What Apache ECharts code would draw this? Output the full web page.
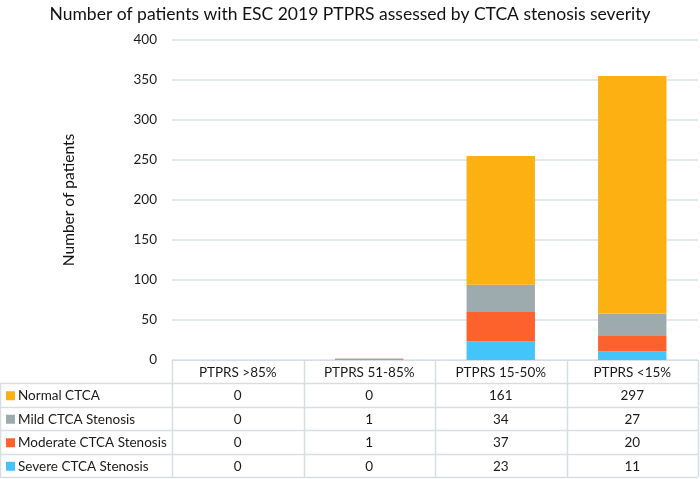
<!DOCTYPE html>
<html><head><meta charset="utf-8">
<script src="https://cdn.jsdelivr.net/npm/echarts@6/dist/echarts.min.js"></script>
<style>html,body{margin:0;padding:0;background:#fff}#c{width:700px;height:479px}</style>
</head><body><div id="c"></div>
<script>
const categories = ['PTPRS >85%', 'PTPRS 51-85%', 'PTPRS 15-50%', 'PTPRS <15%'];
const normalCTCA = [0, 0, 161, 297];
const mildStenosis = [0, 1, 34, 27];
const moderateStenosis = [0, 1, 37, 20];
const severeStenosis = [0, 0, 23, 11];
const seriesNames = ['Normal CTCA', 'Mild CTCA Stenosis', 'Moderate CTCA Stenosis', 'Severe CTCA Stenosis'];
const seriesColors = ['#FDB012', '#9DABAE', '#FD622D', '#44C5F9'];
const tableRows = [normalCTCA, mildStenosis, moderateStenosis, severeStenosis];

const FONT = 'Lato';
const gridLeft = 172, gridRight = 2, gridTop = 40, gridBottom = 119;
const W = 700, H = 479;
const chart = echarts.init(document.getElementById('c'), null, {renderer: 'canvas'});

const stackOrder = [3, 2, 1, 0];
const dataArr = [normalCTCA, mildStenosis, moderateStenosis, severeStenosis];
const series = stackOrder.map(i => ({
  name: seriesNames[i], type: 'bar', stack: 'total', data: dataArr[i],
  barWidth: '52%', itemStyle: {color: seriesColors[i]}
}));

chart.setOption({
  animation: false,
  textStyle: {fontFamily: FONT},
  title: {text: 'Number of patients with ESC 2019 PTPRS assessed by CTCA stenosis severity',
    left: 'center', top: 0, textStyle: {fontFamily: FONT, fontSize: 17.5, fontWeight: 'normal', color: '#111'}},
  grid: {left: gridLeft, right: gridRight, top: gridTop, bottom: gridBottom},
  xAxis: {type: 'category', data: categories, axisLine: {show: true, lineStyle: {color: '#D5DFE3'}},
    axisTick: {show: false}, axisLabel: {show: false}},
  yAxis: {type: 'value', min: 0, max: 400, interval: 50,
    name: 'Number of patients', nameLocation: 'middle', nameGap: 95,
    nameTextStyle: {fontFamily: FONT, fontSize: 15.5, color: '#111'},
    axisLine: {show: false}, axisTick: {show: false},
    axisLabel: {margin: 15, fontSize: 13.5, color: '#1a1a1a', fontFamily: FONT},
    splitLine: {lineStyle: {color: '#D9E2E5', width: 1.5}}},
  series: series
});

// table below the plot
const colCenters = categories.map((c, i) => chart.convertToPixel({xAxisIndex: 0}, i));
const colW = colCenters[1] - colCenters[0];
const tableTop = chart.convertToPixel({yAxisIndex: 0}, 0);
const headerH = 23, rowH = 23.5;
const lineC = '#D5DFE3';
const g = [];
const right = W - gridRight;
for (let i = 0; i <= categories.length; i++) {
  const x = Math.round(colCenters[0] - colW / 2 + i * colW) + 0.5;
  g.push({type: 'line', shape: {x1: x, y1: tableTop, x2: x, y2: tableTop + headerH + rowH * 4}, style: {stroke: lineC, lineWidth: 1.5}});
}
g.push({type: 'line', shape: {x1: 0.5, y1: tableTop + headerH, x2: 0.5, y2: tableTop + headerH + rowH * 4}, style: {stroke: lineC, lineWidth: 1.5}});
for (let r = 0; r <= 4; r++) {
  const y = Math.round(tableTop + headerH + r * rowH) + 0.5;
  g.push({type: 'line', shape: {x1: 0, y1: y, x2: right, y2: y}, style: {stroke: lineC, lineWidth: 1.5}});
}
categories.forEach((c, i) => {
  g.push({type: 'text', style: {text: c, x: colCenters[i], y: tableTop + headerH / 2 + 1, align: 'center', verticalAlign: 'middle', font: '13.5px ' + FONT, fill: '#1a1a1a'}});
});
tableRows.forEach((row, r) => {
  const yc = tableTop + headerH + r * rowH + rowH / 2 + 1;
  g.push({type: 'rect', shape: {x: 6, y: yc - 4.5, width: 9, height: 9}, style: {fill: seriesColors[r]}});
  g.push({type: 'text', style: {text: seriesNames[r], x: 18, y: yc, align: 'left', verticalAlign: 'middle', font: '13.5px ' + FONT, fill: '#1a1a1a'}});
  row.forEach((v, i) => {
    g.push({type: 'text', style: {text: String(v), x: colCenters[i], y: yc, align: 'center', verticalAlign: 'middle', font: '13.5px ' + FONT, fill: '#1a1a1a'}});
  });
});
chart.setOption({graphic: g});
</script></body></html>
